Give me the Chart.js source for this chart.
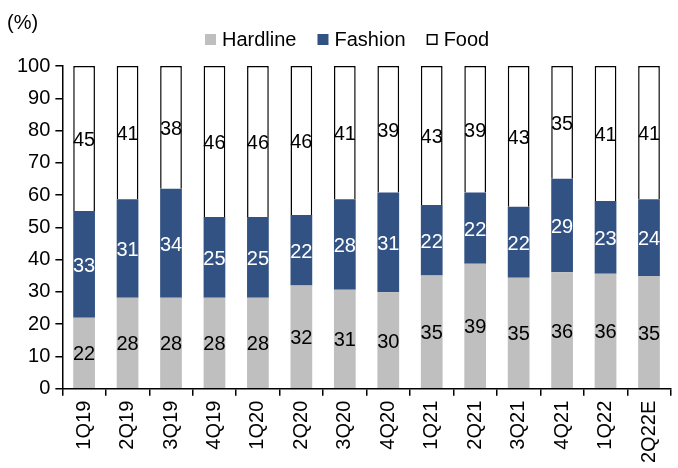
<!DOCTYPE html>
<html>
<head>
<meta charset="utf-8">
<script src="https://cdn.jsdelivr.net/npm/chart.js@4"></script>
<style>
  html, body { margin: 0; padding: 0; background: #fff; overflow: hidden; }
  #wrap { width: 678px; height: 468px; }
</style>
</head>
<body>
<div id="wrap"><canvas id="mixChart"></canvas></div>
<script>
// sales mix by quarter

const quarters = ['1Q19', '2Q19', '3Q19', '4Q19', '1Q20', '2Q20', '3Q20', '4Q20', '1Q21', '2Q21', '3Q21', '4Q21', '1Q22', '2Q22E'];

// bar heights (unrounded shares)
const hardline = [22.0, 28.2, 28.2, 28.2, 28.2, 32.0, 30.7, 29.9, 35.1, 38.7, 34.4, 36.1, 35.6, 34.9];
const fashion = [33.1, 30.5, 33.8, 25.0, 25.0, 21.8, 28.0, 30.9, 21.8, 22.1, 22.0, 29.0, 22.6, 23.8];
const food = [44.9, 41.3, 38.0, 46.8, 46.8, 46.2, 41.3, 39.2, 43.1, 39.2, 43.6, 34.9, 41.8, 41.3];

// numbers printed inside the bars
const hardlineLabels = [22, 28, 28, 28, 28, 32, 31, 30, 35, 39, 35, 36, 36, 35];
const fashionLabels = [33, 31, 34, 25, 25, 22, 28, 31, 22, 22, 22, 29, 23, 24];
const foodLabels = [45, 41, 38, 46, 46, 46, 41, 39, 43, 39, 43, 35, 41, 41];

const yTicks = [0, 10, 20, 30, 40, 50, 60, 70, 80, 90, 100];

const FONT = '"Liberation Sans", Arial, sans-serif';
Chart.defaults.font.family = FONT;
Chart.defaults.color = '#000';

const printed = [hardlineLabels, fashionLabels, foodLabels];

// numbers inside the bars, the "(%)" unit and a compact legend
const barNumbers = {
    id: 'barNumbers',
    afterDatasetsDraw(chart) {
        const ctx = chart.ctx;
        ctx.save();
        ctx.font = '20px ' + FONT;
        ctx.textAlign = 'center';
        ctx.textBaseline = 'middle';
        chart.data.datasets.forEach((ds, i) => {
            const meta = chart.getDatasetMeta(i);
            meta.data.forEach((bar, j) => {
                const mid = (bar.y + bar.base) / 2;
                ctx.fillStyle = i === 1 ? '#fff' : '#000';
                ctx.fillText(String(printed[i][j]), bar.x, mid + 2);
            });
        });

        ctx.textAlign = 'left';
        ctx.fillStyle = '#000';
        ctx.fillText('(%)', 7, 23);

        // legend
        const ly = 39;
        let x = 205;
        chart.data.datasets.forEach(ds => {
            ctx.fillStyle = ds.backgroundColor;
            ctx.fillRect(x, ly - 5, 11, 11);
            if (ds.borderWidth) {
                ctx.strokeStyle = '#000';
                ctx.lineWidth = 1.5;
                ctx.strokeRect(x + 0.75, ly - 4.25, 9.5, 9.5);
            }
            ctx.fillStyle = '#000';
            ctx.fillText(ds.label, x + 17, ly + 1);
            x += 17 + ctx.measureText(ds.label).width + 21;
        });
        ctx.restore();
    }
};

const mixChart = new Chart(document.getElementById('mixChart'), {
    type: 'bar',
    data: {
        labels: quarters,
        datasets: [{
            label: 'Hardline',
            data: hardline,
            backgroundColor: '#bfbfbf',
            borderWidth: 0,
        },
        {
            label: 'Fashion',
            data: fashion,
            backgroundColor: '#325283',
            borderWidth: 0,
        },
        {
            label: 'Food',
            data: food,
            backgroundColor: '#ffffff',
            borderColor: '#000',
            borderWidth: 1.5,
        }]
    },
    options: {
        responsive: true,
        maintainAspectRatio: false,
        animation: false,
        datasets: {
            bar: { barPercentage: 0.5, categoryPercentage: 1.0 }
        },
        layout: { padding: { top: 66, left: 12, right: 0, bottom: 0 } },
        plugins: {
            legend: { display: false },
            tooltip: { enabled: false },
        },
        scales: {
            x: {
                stacked: true,
                grid: {
                    offset: true,
                    drawOnChartArea: false,
                    drawTicks: true,
                    tickLength: 7,
                    color: '#000',
                    lineWidth: 1.5,
                },
                border: { color: '#000', width: 1.5 },
                ticks: {
                    minRotation: 90,
                    maxRotation: 90,
                    autoSkip: false,
                    font: { size: 20 },
                    color: '#000',
                    padding: 5,
                },
            },
            y: {
                stacked: true,
                min: 0,
                max: 100,
                afterBuildTicks(axis) {
                    axis.ticks = yTicks.map(v => ({ value: v }));
                },
                grid: {
                    drawOnChartArea: false,
                    drawTicks: true,
                    tickLength: 7,
                    color: '#000',
                    lineWidth: 1.5,
                },
                border: { color: '#000', width: 1.5 },
                ticks: {
                    font: { size: 20 },
                    color: '#000',
                    padding: 5,
                },
            },
        },
    },
    plugins: [barNumbers],
});
</script>
</body>
</html>
